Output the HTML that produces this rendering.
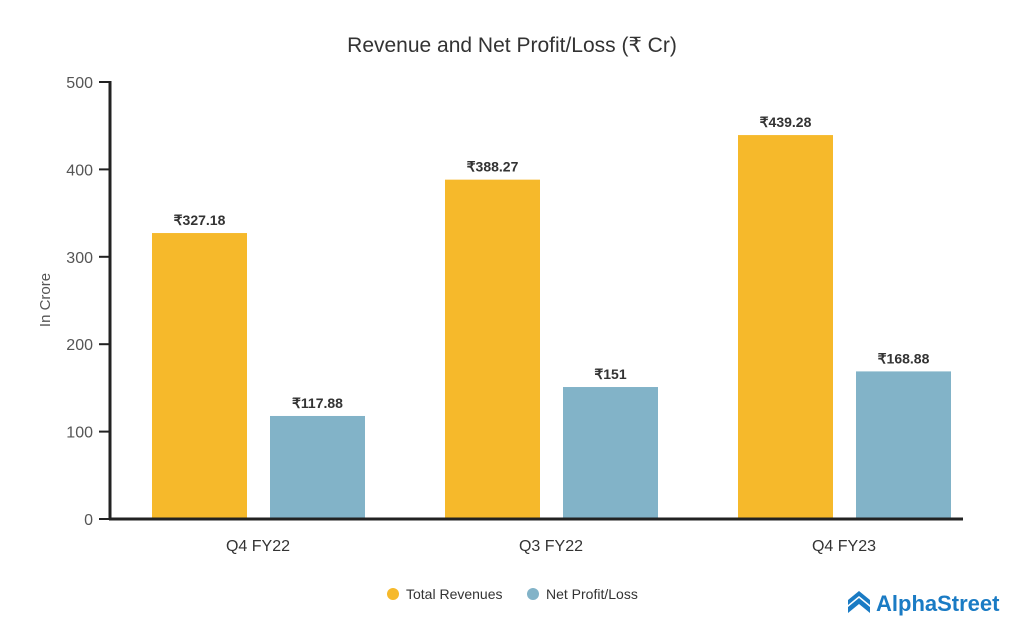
<!DOCTYPE html>
<html><head><meta charset="utf-8"><style>
body{margin:0;background:#fff;}
svg{display:block;font-family:"Liberation Sans Narrow","Liberation Sans",sans-serif;}
</style></head><body>
<svg id="chart" width="1024" height="640" viewBox="0 0 1024 640" xmlns="http://www.w3.org/2000/svg">
<text x="512" y="52" text-anchor="middle" font-size="21" fill="#333">Revenue and Net Profit/Loss (₹ Cr)</text>
<text transform="translate(50,300) rotate(-90)" text-anchor="middle" font-size="15" fill="#555">In Crore</text>
<g id="grid"></g>
<g id="bars"></g>
<g id="labels"></g>
<line x1="110" y1="81" x2="110" y2="520" stroke="#222" stroke-width="3"/>
<line x1="109" y1="519" x2="963" y2="519" stroke="#222" stroke-width="3"/>
<g>
<circle cx="393" cy="594" r="6" fill="#F6B92B"/>
<text x="406" y="599" font-size="14" fill="#333">Total Revenues</text>
<circle cx="533" cy="594" r="6" fill="#82B3C8"/>
<text x="546" y="599" font-size="14" fill="#333">Net Profit/Loss</text>
</g>
<g>
<path d="M848 600 L859 591 L870 600 L870 605 L859 596 L848 605 Z" fill="#1a7bc4"/>
<path d="M848 607 L859 598 L870 607 L870 613 L859 604 L848 613 Z" fill="#1a7bc4"/>
<text x="876" y="611" font-size="22" font-weight="bold" fill="#1a7bc4">AlphaStreet</text>
</g>
</svg>
<script>
const categories=["Q4 FY22","Q3 FY22","Q4 FY23"];
const revenues=[327.18,388.27,439.28];
const profits=[117.88,151,168.88];
const revLabels=["₹327.18","₹388.27","₹439.28"];
const profLabels=["₹117.88","₹151","₹168.88"];
const yTicks=[0,100,200,300,400,500];
const NS="http://www.w3.org/2000/svg";
const y=v=>519-v*437/500;
const cx=i=>258+i*293;
const svg=document.getElementById('chart');
const grid=document.getElementById('grid'),bars=document.getElementById('bars'),labels=document.getElementById('labels');
function mk(tag,attrs,parent,txt){const e=document.createElementNS(NS,tag);for(const k in attrs)e.setAttribute(k,attrs[k]);if(txt!==undefined)e.textContent=txt;parent.appendChild(e);return e;}
yTicks.forEach(t=>{
  const l=mk('line',{x1:99,x2:110,y1:y(t),y2:y(t),stroke:'#222','stroke-width':2},grid);
  
  
  const tx=mk('text',{x:93,y:y(t)+6,'text-anchor':'end','font-size':16,fill:'#555'},grid,String(t));
  
  
});
categories.forEach((c,i)=>{
  const rx=cx(i)-106, px=cx(i)+12, w=95;
  const r=mk('rect',{x:rx,y:y(revenues[i]),width:w,height:519-y(revenues[i]),fill:'#F6B92B'},bars);
  
  
  const p=mk('rect',{x:px,y:y(profits[i]),width:w,height:519-y(profits[i]),fill:'#82B3C8'},bars);
  
  
  const rl=mk('text',{x:rx+w/2,y:y(revenues[i])-8,'text-anchor':'middle','font-size':14,'font-weight':'bold',fill:'#333'},labels,revLabels[i]);
  
  
  const pl=mk('text',{x:px+w/2,y:y(profits[i])-8,'text-anchor':'middle','font-size':14,'font-weight':'bold',fill:'#333'},labels,profLabels[i]);
  
  
  const cl=mk('text',{x:cx(i),y:551,'text-anchor':'middle','font-size':16,fill:'#333'},labels,c);
  
  
});
</script>
</body></html>
